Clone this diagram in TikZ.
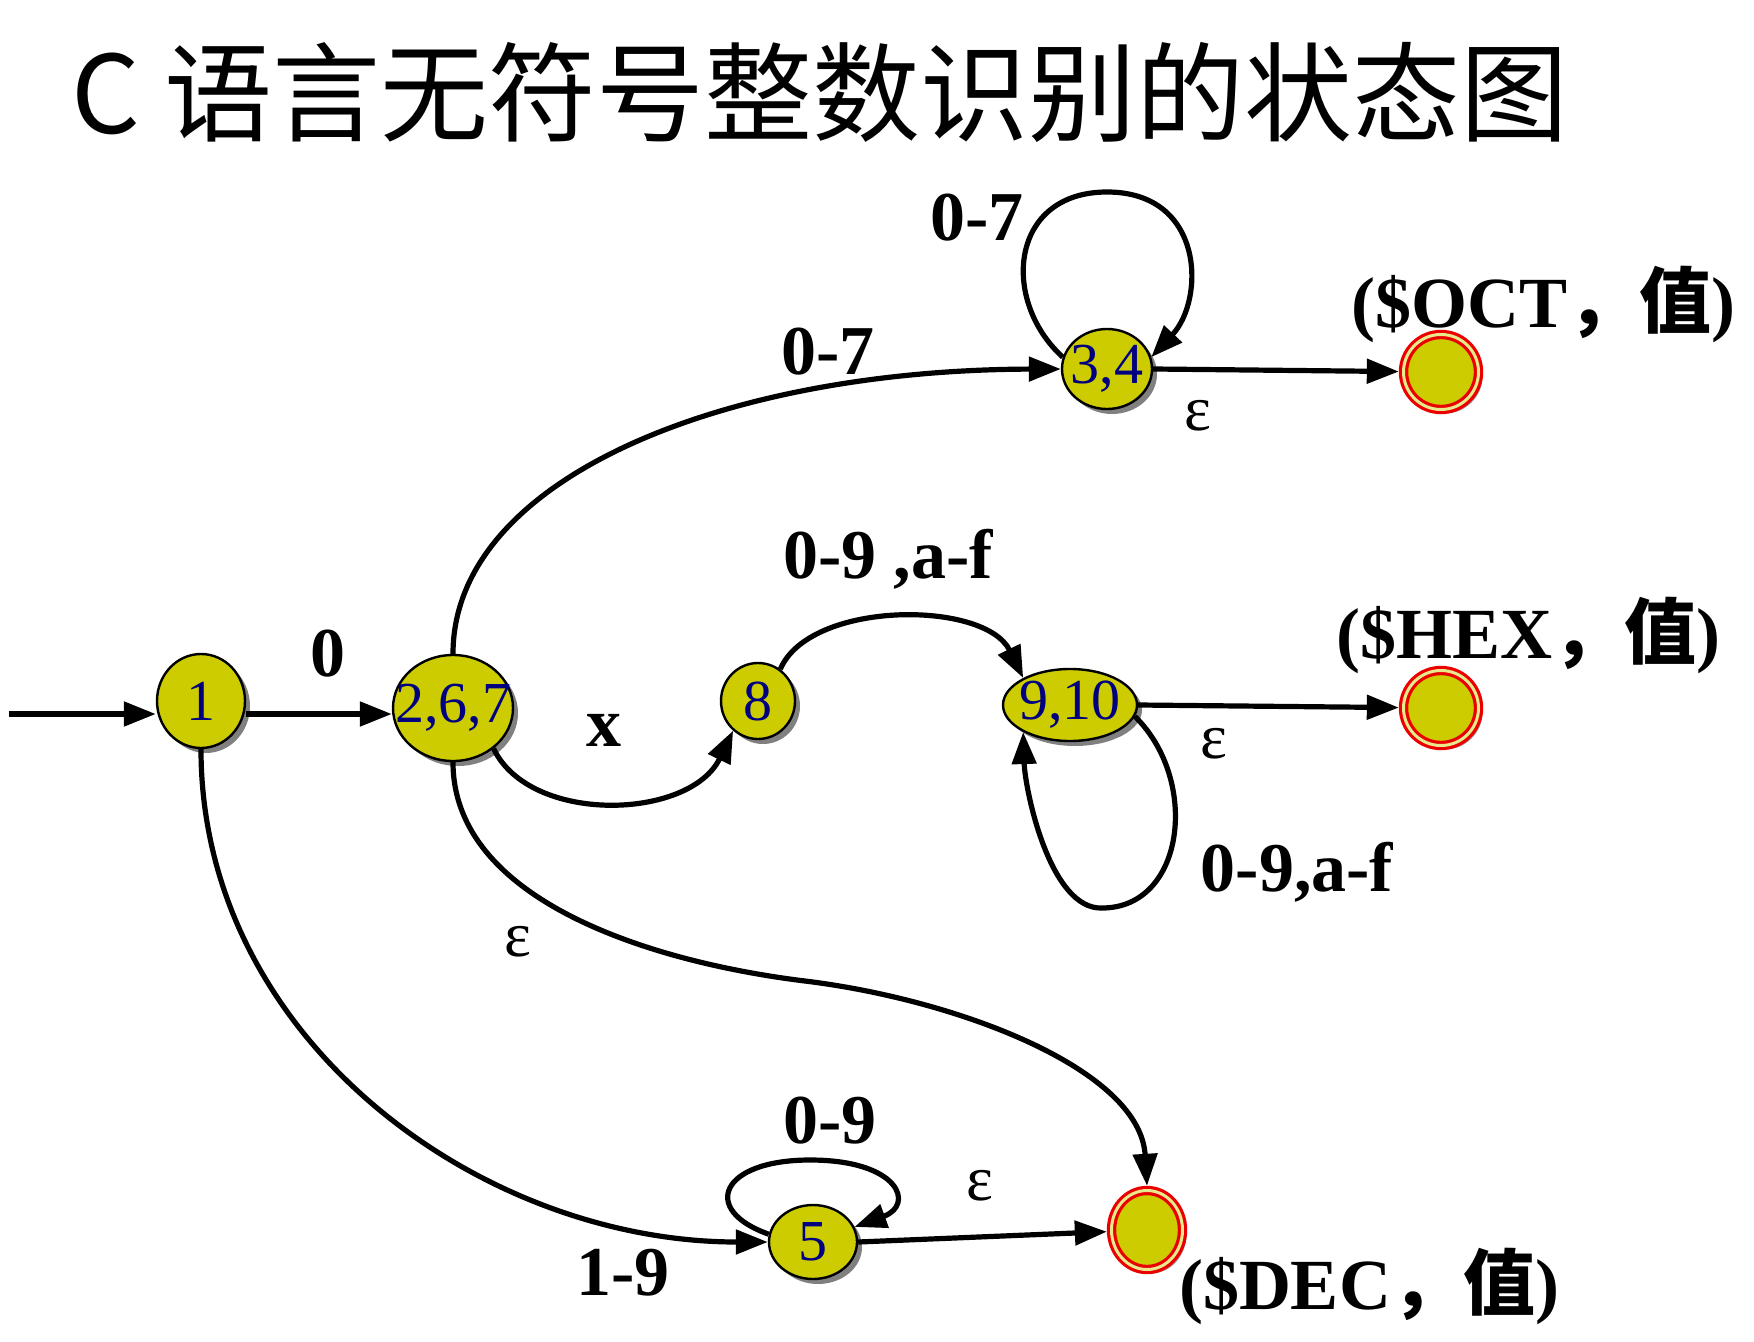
\documentclass[tikz,border=0pt]{standalone}
\usepackage{fontspec}
\setmainfont{Liberation Serif}
\newfontfamily\cjk{Noto Sans CJK SC}
\usetikzlibrary{shapes,arrows.meta,positioning,shadows}
\definecolor{stateyellow}{RGB}{204,204,0}
\definecolor{statenavy}{RGB}{0,0,128}
\definecolor{acceptred}{RGB}{235,0,0}
\newcommand{\stnum}[1]{\makebox[0pt]{#1}}

\begin{document}
\begin{tikzpicture}[
    x=0.5pt, y=-0.5pt,
    state/.style={
        ellipse, draw=black, line width=1.2pt, fill=stateyellow,
        text=statenavy, inner sep=0pt,
        font=\fontsize{29}{30}\selectfont,
        drop shadow={shadow xshift=2.5pt, shadow yshift=-2.5pt, fill=gray, opacity=1}
    },
    accept/.style={
        ellipse, draw=acceptred, line width=1.6pt,
        double=stateyellow!45, double distance=1.5pt,
        fill=stateyellow, inner sep=0pt, outer sep=2.35pt,
        drop shadow={shadow xshift=2pt, shadow yshift=-2pt, fill=gray!80, opacity=1}
    },
    trans/.style={line width=2.6pt, -{Triangle[length=16pt,width=12pt]}},
    lbl/.style={font=\bfseries\fontsize{35}{36}\selectfont, inner sep=0pt},
    eps/.style={font=\fontsize{32}{33}\selectfont, inner sep=0pt},
    result/.style={font=\bfseries\fontsize{36}{38}\selectfont, inner sep=0pt},
    heading/.style={font=\cjk\fontsize{54}{60}\selectfont, inner sep=0pt}
]
\useasboundingbox (0,0) rectangle (1754,1342);

\node[heading] (title) at (820,92) {C 语言无符号整数识别的状态图};

% states
\node[state, minimum width=44pt, minimum height=47pt] (n1) at (201,701) {\stnum{1}};
\node[state, minimum width=60pt, minimum height=53pt] (n267) at (453,708) {\stnum{2,6,7}};
\node[state, minimum width=37pt, minimum height=38pt] (n8) at (758,701) {\stnum{8}};
\node[state, minimum width=67pt, minimum height=36pt] (n910) at (1070,705) {\stnum{9,10}};
\node[state, minimum width=45pt, minimum height=40pt] (n34) at (1107,369) {\stnum{3,4}};
\node[state, minimum width=44pt, minimum height=37pt] (n5) at (813,1242) {\stnum{5}};

\node[accept, minimum width=37.5pt, minimum height=37.5pt] (fOCT) at (1441,372) {};
\node[accept, minimum width=37.5pt, minimum height=37.5pt] (fHEX) at (1441,708) {};
\node[accept, minimum width=35.5pt, minimum height=39.5pt] (fDEC) at (1147,1230) {};

\coordinate (start) at (9,714);

% transitions
\draw[trans] (start) -- (start -| n1.west);
\draw[trans] (start -| n1.east) -- (start -| n267.west);
\draw[trans] (n267.north) .. controls (453,480) and (720,370) .. (n34.west);
\draw[trans] (n267.-45) .. controls (530,825) and (690,820) .. (n8.-130);
\draw[trans] (n8.55) .. controls (810,600) and (985,600) .. (n910.150);
\draw[trans] (n910.-10) .. controls (1200,780) and (1185,908) .. (1102,908)
    .. controls (1050,910) and (1025,790) .. (n910.-150);
\draw[trans] (n910.east) -- (fHEX);
\draw[trans] (n34.165) .. controls (1000,300) and (1010,192) .. (1107,192)
    .. controls (1205,192) and (1205,300) .. (n34.15);
\draw[trans] (n34.east) -- (fOCT);
\draw[trans] (n267.south) .. controls (453,900) and (650,962) .. (805,981)
    .. controls (960,1000) and (1140,1070) .. (fDEC.north);
\draw[trans] (n1.south) .. controls (201,1038) and (479,1242) .. (n5.west);
\draw[trans] (n5.170) .. controls (700,1210) and (720,1160) .. (810,1160)
    .. controls (900,1160) and (915,1205) .. (n5.20);
\draw[trans] (n5.east) -- (fDEC);

% labels
\node[lbl] (l0) at (328,654) {0};
\node[lbl] (lx) at (604,730) {x};
\node[lbl] (l07a) at (828,352) {0-7};
\node[lbl] (l07b) at (977,218) {0-7};
\node[eps] (e34) at (1198,416) {ε};
\node[result] (rOCT) at (1543,304) {(\$OCT{\cjk ，值})};
\node[lbl] (l09af) at (888,559) {0-9 ,a-f};
\node[result] (rHEX) at (1528,635) {(\$HEX{\cjk ，值})};
\node[eps] (e910) at (1214,744) {ε};
\node[lbl] (l09afb) at (1297,872) {0-9,a-f};
\node[eps] (e267) at (518,942) {ε};
\node[lbl] (l09) at (830,1121) {0-9};
\node[eps] (e5) at (980,1186) {ε};
\node[lbl] (l19) at (623,1273) {1-9};
\node[result] (rDEC) at (1369,1286) {(\$DEC{\cjk ，值})};

\end{tikzpicture}
\end{document}
